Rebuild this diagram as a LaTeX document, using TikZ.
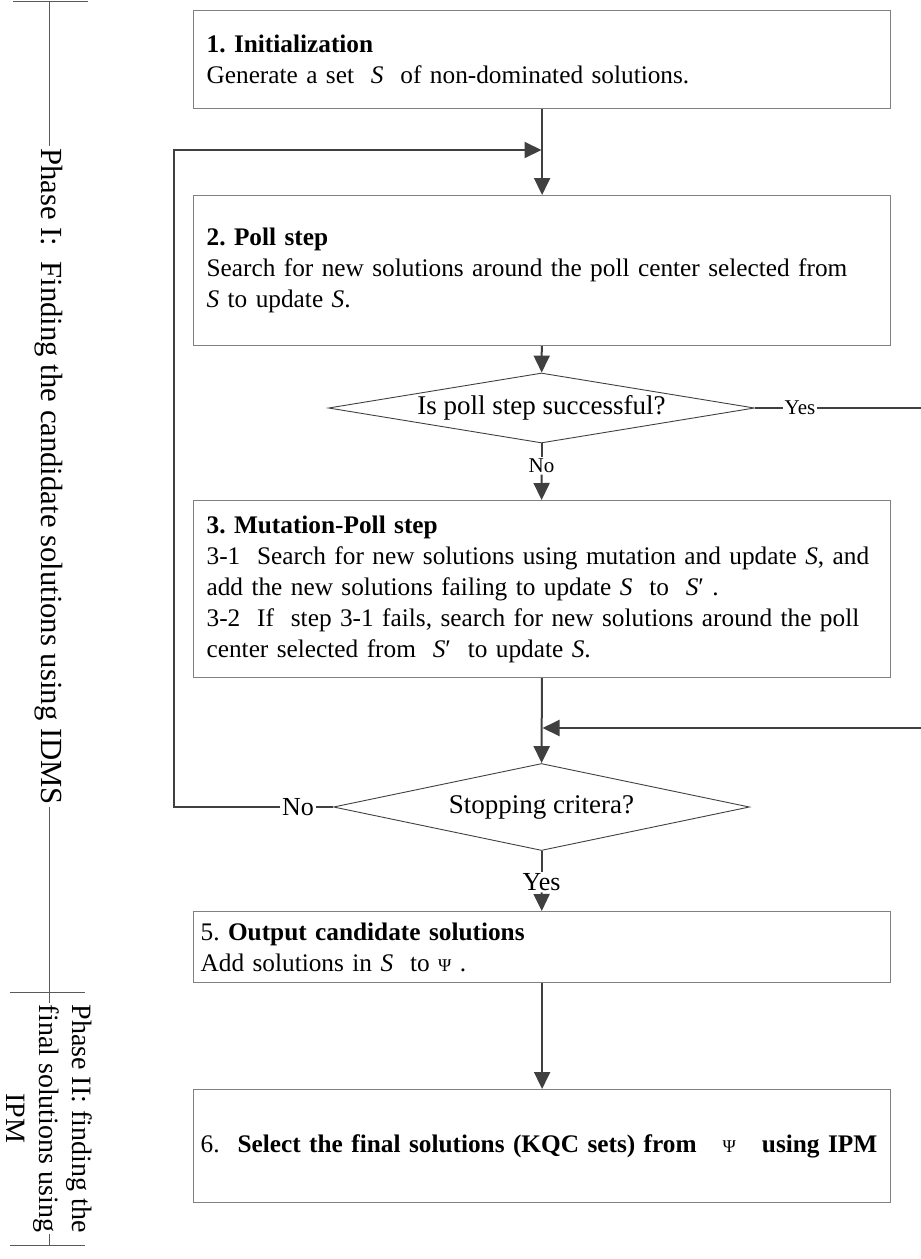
\documentclass[tikz,border=0pt]{standalone}
\usepackage{fontspec}
\setmainfont{Liberation Serif}
\usepackage{tikz}
\usetikzlibrary{shapes.geometric,arrows.meta}
\frenchspacing
\definecolor{colorflow}{HTML}{404040}
\definecolor{colorbox}{HTML}{808080}
\newcommand\boxfont{\fontsize{25.3pt}{31pt}\selectfont}
\newcommand\askfont{\fontsize{27pt}{30pt}\selectfont}
\newcommand\ansfont{\fontsize{21pt}{24pt}\selectfont}
\newcommand\ansbigfont{\fontsize{26pt}{30pt}\selectfont}
\newcommand\phasefont{\fontsize{30.7pt}{34pt}\selectfont}
\newcommand\phasetwofont{\fontsize{28pt}{33pt}\selectfont}
\newcommand\smallpsi{{\fontsize{18pt}{18pt}\selectfont Ψ}}
\tikzset{stepbox/.style={draw=colorbox, line width=1.2pt, anchor=north west, align=left, text width=694pt, inner xsep=1.5pt, inner ysep=0pt, font=\boxfont, execute at begin node={\leftskip=11.5pt}}}
\tikzset{decision/.style={diamond, draw=colorflow, line width=0.9pt, aspect=6, inner sep=0pt, font=\askfont}}
\tikzset{answer/.style={inner sep=1.5pt, font=\ansfont}}
\tikzset{phase/.style={rotate=-90, inner xsep=2pt, inner ysep=0pt, align=center}}
\tikzset{
  flow/.style={colorflow, line width=2pt, -{Triangle[width=16pt,length=17pt]}},
  plain/.style={colorflow, line width=2pt},
  bracket/.style={colorbox!70!black, line width=1pt}
}

\begin{document}
\begin{tikzpicture}[x=1pt,y=-1pt]
\useasboundingbox (0,0) rectangle (921,1259);

\node[stepbox, minimum height=98pt](init) at (193,10)
{\textbf{1. Initialization}\\
Generate a set\ \ \textit{S}\ \ of non-dominated solutions.};

\node[stepbox, minimum height=150pt](poll) at (193,195)
{\textbf{2. Poll step}\\
Search for new solutions around the poll center selected from\\
\textit{S} to update \textit{S}.};

\node[decision, minimum width=426pt, minimum height=70pt](ispoll) at (541.5,408)
{Is poll step successful?};

\node[stepbox, minimum height=177pt](mutation) at (193,500)
{\textbf{3. Mutation-Poll step}\\
3-1\ \ Search for new solutions using mutation and update \textit{S}, and\\
add the new solutions failing to update \textit{S}\ \ to\ \ \textit{S}′\ .\\
3-2\ \ If\ \ step 3-1 fails, search for new solutions around the poll\\
center selected from\ \ \textit{S}′\ \ to update \textit{S}.};

\node[decision, minimum width=416pt, minimum height=87pt](stop) at (541.5,807)
{Stopping critera?};

\node[stepbox, execute at begin node={\leftskip=5.5pt}, minimum height=71pt](output) at (193,911)
{5. \textbf{Output candidate solutions}\\
Add solutions in \textit{S}\ \ to \smallpsi\ .};

\node[stepbox, execute at begin node={\leftskip=5.5pt}, minimum height=113pt](select) at (193,1089)
{6.\hspace{18pt}\textbf{Select the final solutions (KQC sets) from}\hspace{26pt}\smallpsi\hspace{26pt}\textbf{using IPM}};

% answers
\node[answer](yes1) at (800,408) {Yes};
\node[answer](no1) at (541.5,466) {No};
\node[answer, font=\ansbigfont](no2) at (298,807) {No};
\node[answer, font=\ansbigfont](yes2) at (541.5,882) {Yes};

\coordinate (fb) at (541.5,150);
\coordinate (rjoin) at (542.5,728);
\coordinate (redge) at (922,0);
\coordinate (ledge) at (174,0);

\draw[flow] (init) -- (poll);
\draw[flow] (poll) -- (ispoll);
\draw[plain] (ispoll) -- (no1);
\draw[flow] (no1) -- (mutation);
\draw[plain] (ispoll) -- (yes1);
\draw[flow] (yes1.east) -- (yes1.east -| redge) |- (rjoin);
\draw[flow] (mutation) -- (stop);
\draw[plain] (stop) -- (no2);
\draw[flow] (no2.west) -- (no2.west -| ledge) |- (fb);
\draw[plain] (stop) -- (yes2);
\draw[flow] (yes2) -- (output);
\draw[flow] (output) -- (select);

% phase brackets
\coordinate (ptop) at (49,1.5);
\coordinate (pmid) at (49,992);
\coordinate (pbot) at (49,1245);
\draw[bracket] (ptop) ++(-36,0) -- ++(75,0);
\draw[bracket] (pmid) ++(-39,0) -- ++(75,0);
\draw[bracket] (pbot) ++(-39,0) -- ++(75,0);

\node[phase, font=\phasefont](phaseone) at (49,476.5)
{Phase I:\ \ Finding the candidate solutions using IDMS};
\node[phase, font=\phasetwofont](phasetwo) at (49,1118.5)
{Phase II: finding the\\ final solutions using\\ IPM};

\draw[bracket] (ptop) -- (phaseone.west);
\draw[bracket] (phaseone.east) -- (pmid);
\draw[bracket] (pmid) -- (49,1003);
\draw[bracket] (49,1234) -- (pbot);
\end{tikzpicture}
\end{document}
